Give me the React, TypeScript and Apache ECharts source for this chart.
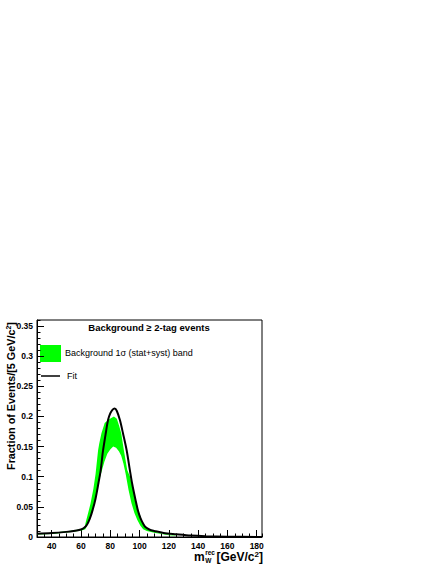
import React, { useEffect, useRef } from "react";
import * as echarts from "echarts";

// Axis tick values
const xMajorTicks = [40, 60, 80, 100, 120, 140, 160, 180];
const yMajorTicks = [0, 0.05, 0.1, 0.15, 0.2, 0.25, 0.3, 0.35];

// Fit curve [m_W^rec, fraction]
const fitCurve: [number, number][] = [
  [30, 0.0055], [40, 0.0065], [50, 0.0085], [55, 0.01], [60, 0.0125], [62, 0.015],
  [64, 0.02], [66, 0.03], [68, 0.045], [70, 0.064], [72, 0.09], [73.5, 0.111],
  [75, 0.142], [77, 0.173], [78.5, 0.194], [80, 0.205], [81.5, 0.211], [83, 0.213],
  [84.5, 0.209], [86.6, 0.194], [88.7, 0.172], [91.2, 0.144], [93.4, 0.111],
  [95, 0.088], [97.3, 0.061], [99, 0.043], [100.7, 0.031], [102.5, 0.022],
  [104, 0.0166], [107, 0.012], [110, 0.01], [116.5, 0.0066], [125, 0.0045],
  [135, 0.0023], [145, 0.0012], [160, 0.0005], [183.6, 0.0001],
];

// Background 1 sigma band: upper and lower edges
const bandUpper: [number, number][] = [
  [30, 0.0055], [40, 0.007], [50, 0.0095], [56, 0.011], [61, 0.014], [62.5, 0.016],
  [63.3, 0.025], [64.5, 0.036], [66.5, 0.055], [68.5, 0.08], [70, 0.105],
  [71.7, 0.144], [72.5, 0.155], [74, 0.172], [76.2, 0.189], [79, 0.195],
  [82.5, 0.2], [84.5, 0.196], [86, 0.185], [87.5, 0.172], [89.3, 0.144],
  [91.6, 0.111], [93.5, 0.1], [95.5, 0.08], [97.5, 0.06], [99.5, 0.042],
  [101.5, 0.028], [103.5, 0.018], [106, 0.012], [110, 0.009], [115, 0.006],
  [120, 0.004], [125, 0.0025],
];
const bandLower: [number, number][] = [
  [30, 0.004], [40, 0.005], [50, 0.0075], [56, 0.009], [61, 0.011], [63, 0.013],
  [65, 0.024], [67, 0.036], [69, 0.053], [71, 0.075], [72.5, 0.095], [74, 0.108],
  [76, 0.125], [78, 0.138], [80, 0.145], [82, 0.15], [84, 0.148], [86, 0.142],
  [87.5, 0.135], [89, 0.122], [90.5, 0.105], [92.5, 0.078], [94.5, 0.056],
  [96.5, 0.04], [98.5, 0.028], [100.5, 0.019], [102.5, 0.013], [105, 0.01],
  [110, 0.007], [115, 0.005], [120, 0.003], [125, 0.002],
];

const FONT = "Liberation Sans, Arial, Helvetica, sans-serif";

export default function App() {
  const ref = useRef<HTMLDivElement>(null);
  useEffect(() => {
    if (!ref.current) return;
    const chart = echarts.init(ref.current, null, { renderer: "svg" });
    const xMin = 30, xMax = 183.6, yMin = 0, yMax = 0.36;
    chart.setOption({
      animation: false,
      textStyle: { fontFamily: FONT },
      grid: {
        left: 37, right: 174, top: 320, bottom: 27,
        show: true, borderColor: "#000", borderWidth: 1, backgroundColor: "#fff",
      },
      xAxis: [
        {
          type: "value", min: xMin, max: xMax, position: "bottom",
          axisLine: { show: true, onZero: false, lineStyle: { color: "#000", width: 1 } },
          axisTick: { show: true, inside: true, length: 7, customValues: xMajorTicks, lineStyle: { color: "#000" } },
          axisLabel: {
            show: true, customValues: xMajorTicks, margin: 4,
            color: "#000", fontSize: 8.5, fontWeight: "bold", fontFamily: FONT,
          },
          splitLine: { show: false },
        },
        {
          type: "value", min: xMin, max: xMax, interval: 5, position: "bottom",
          axisLine: { show: false },
          axisTick: { show: true, inside: true, length: 3.5, lineStyle: { color: "#000" } },
          axisLabel: { show: false },
          splitLine: { show: false },
        },
      ],
      yAxis: [
        {
          type: "value", min: yMin, max: yMax, position: "left",
          axisLine: { show: true, onZero: false, lineStyle: { color: "#000", width: 1 } },
          axisTick: { show: true, inside: true, length: 7, customValues: yMajorTicks, lineStyle: { color: "#000" } },
          axisLabel: {
            show: true, customValues: yMajorTicks, margin: 4,
            color: "#000", fontSize: 8.5, fontWeight: "bold", fontFamily: FONT,
            formatter: (v: number) => String(+v.toFixed(2)),
          },
          splitLine: { show: false },
        },
        {
          type: "value", min: yMin, max: yMax, interval: 0.01, position: "left",
          axisLine: { show: false },
          axisTick: { show: true, inside: true, length: 3.5, lineStyle: { color: "#000" } },
          axisLabel: { show: false },
          splitLine: { show: false },
        },
      ],
      series: [
        {
          type: "custom",
          xAxisIndex: 0, yAxisIndex: 0,
          silent: true,
          clip: true,
          z: 1,
          data: bandUpper,
          renderItem: (params: any, api: any) => {
            if (params.dataIndex !== 0) return null;
            const pts = bandUpper
              .map((p) => api.coord(p))
              .concat(bandLower.slice().reverse().map((p) => api.coord(p)));
            return {
              type: "polygon",
              shape: { points: pts },
              style: { fill: "#00ff00", stroke: "none" },
            };
          },
        },
        {
          type: "line",
          xAxisIndex: 0, yAxisIndex: 0,
          data: fitCurve,
          smooth: 0.3,
          symbol: "none",
          silent: true,
          z: 3,
          lineStyle: { color: "#000", width: 2 },
        },
      ],
      graphic: [
        {
          type: "text",
          style: {
            text: "Background \u2265 2-tag events", x: 149, y: 327,
            align: "center", verticalAlign: "middle",
            fontSize: 9.5, fontWeight: "bold", fontFamily: FONT, fill: "#000",
          },
        },
        {
          type: "rect",
          shape: { x: 40, y: 345, width: 21, height: 17 },
          style: { fill: "#00ff00" },
        },
        {
          type: "text",
          style: {
            text: "Background 1\u03c3 (stat+syst) band", x: 65, y: 353,
            align: "left", verticalAlign: "middle",
            fontSize: 9, fontFamily: FONT, fill: "#000",
          },
        },
        {
          type: "line",
          shape: { x1: 41, y1: 376, x2: 60, y2: 376 },
          style: { stroke: "#000", lineWidth: 1.5 },
        },
        {
          type: "text",
          style: {
            text: "Fit", x: 67, y: 376,
            align: "left", verticalAlign: "middle",
            fontSize: 9, fontFamily: FONT, fill: "#000",
          },
        },
        {
          type: "text",
          x: 11, y: 396, rotation: Math.PI / 2,
          style: {
            text: "Fraction of Events/[5 GeV/c{sup|2}]",
            x: 0, y: 0, align: "center", verticalAlign: "middle",
            fontSize: 10.8, fontWeight: "bold", fontFamily: FONT, fill: "#000",
            rich: {
              sup: { fontSize: 7, fontWeight: "bold", fontFamily: FONT, padding: [0, 0, 5, 0], fill: "#000" },
            },
          },
        },
        {
          type: "text",
          style: {
            text: "m", x: 194, y: 557, align: "left", verticalAlign: "middle",
            fontSize: 12, fontWeight: "bold", fontFamily: FONT, fill: "#000",
          },
        },
        {
          type: "text",
          style: {
            text: "rec\nW", x: 205.2, y: 556, align: "left", verticalAlign: "middle",
            fontSize: 6.5, lineHeight: 8, fontWeight: "bold", fontFamily: FONT, fill: "#000",
          },
        },
        {
          type: "text",
          style: {
            text: "[GeV/c{sup|2}]", x: 263, y: 557, align: "right", verticalAlign: "middle",
            fontSize: 12, fontWeight: "bold", fontFamily: FONT, fill: "#000",
            rich: {
              sup: { fontSize: 8, fontWeight: "bold", fontFamily: FONT, padding: [0, 0, 6, 0], fill: "#000" },
            },
          },
        },
      ],
    });
    return () => chart.dispose();
  }, []);
  return (
    <div
      ref={ref}
      style={{ position: "fixed", left: 0, top: 0, width: 436, height: 564, background: "#fff" }}
    />
  );
}
